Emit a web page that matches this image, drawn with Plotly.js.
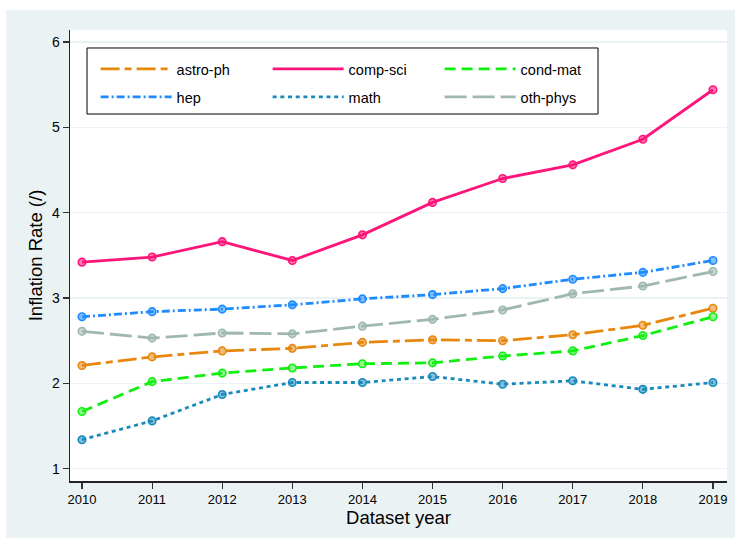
<!DOCTYPE html>
<html>
<head>
<meta charset="utf-8">
<script src="https://cdn.plot.ly/plotly-3.0.1.min.js"></script>
<style>
  html, body { margin: 0; padding: 0; background: #ffffff; width: 735px; height: 542px; overflow: hidden; }
  #chart { position: absolute; left: 6px; top: 10px; width: 729px; height: 528px; }
</style>
</head>
<body>
<div id="chart"></div>
<script>
// ---- data ----
const years = [2010, 2011, 2012, 2013, 2014, 2015, 2016, 2017, 2018, 2019];
const astroPh = [2.21, 2.31, 2.38, 2.41, 2.48, 2.51, 2.50, 2.57, 2.68, 2.88];
const compSci = [3.42, 3.48, 3.66, 3.44, 3.74, 4.12, 4.40, 4.56, 4.86, 5.44];
const condMat = [1.67, 2.02, 2.12, 2.18, 2.23, 2.24, 2.32, 2.38, 2.56, 2.78];
const hep     = [2.78, 2.84, 2.87, 2.92, 2.99, 3.04, 3.11, 3.22, 3.30, 3.44];
const math    = [1.34, 1.56, 1.87, 2.01, 2.01, 2.08, 1.99, 2.03, 1.93, 2.01];
const othPhys = [2.61, 2.53, 2.59, 2.58, 2.67, 2.75, 2.86, 3.05, 3.14, 3.31];
const seriesNames = ["astro-ph", "comp-sci", "cond-mat", "hep", "math", "oth-phys"];
const yTicks = [1, 2, 3, 4, 5, 6];

const styles = [
  { color: "#E8870E", fill: "rgba(232,135,14,0.55)", dash: "19px,5px,7px,5px" },
  { color: "#FF1479", fill: "rgba(255,20,121,0.55)", dash: "solid" },
  { color: "#10F010", fill: "rgba(16,240,16,0.45)", dash: "11px,6px" },
  { color: "#1E8CFF", fill: "rgba(30,140,255,0.55)", dash: "8px,3px,2px,3px" },
  { color: "#1A8ABD", fill: "rgba(26,138,189,0.55)", dash: "4px,3.7px" },
  { color: "#9FB8AF", fill: "rgba(159,184,175,0.55)", dash: "22px,6px" }
];
const values = [astroPh, compSci, condMat, hep, math, othPhys];

const traces = [];
values.forEach((v, i) => {
  const legendId = i < 3 ? "legend" : "legend2";
  traces.push({
    x: years, y: v, name: seriesNames[i], type: "scatter", mode: "lines",
    legend: legendId, legendgroup: seriesNames[i],
    line: { color: styles[i].color, width: 2.8, dash: styles[i].dash }
  });
  traces.push({
    x: years, y: v, name: seriesNames[i], type: "scatter", mode: "markers",
    legend: legendId, legendgroup: seriesNames[i], showlegend: false,
    marker: { symbol: "circle", size: 7.5, color: styles[i].fill, line: { color: styles[i].color, width: 1.6 } }
  });
});

const legendFont = { family: "Liberation Sans, Arial, sans-serif", size: 14.5, color: "#000000" };
const legendBase = {
  orientation: "h",
  xanchor: "left",
  yanchor: "middle",
  bgcolor: "rgba(0,0,0,0)",
  borderwidth: 0,
  itemwidth: 71,
  entrywidth: 86,
  entrywidthmode: "pixels",
  font: legendFont,
  itemclick: false,
  itemdoubleclick: false
};

const layout = {
  width: 729,
  height: 528,
  margin: { l: 64, r: 8, t: 20, b: 57, pad: 0 },
  paper_bgcolor: "#EAF2F3",
  plot_bgcolor: "#FFFFFF",
  font: { family: "Liberation Sans, Arial, sans-serif", color: "#000000", size: 14 },
  showlegend: true,
  legend: Object.assign({}, legendBase, { x: 0.039, y: 0.9135 }),
  legend2: Object.assign({}, legendBase, { x: 0.039, y: 0.8514 }),
  shapes: [{
    type: "rect", xref: "paper", yref: "paper",
    x0: 0.0259, x1: 0.8037, y0: 0.8137, y1: 0.9601,
    line: { color: "#000000", width: 1 }, fillcolor: "#FFFFFF", layer: "above"
  }],
  xaxis: {
    range: [2009.829, 2019.2],
    tickmode: "array",
    tickvals: years,
    ticktext: years.map(String),
    ticks: "outside",
    ticklen: 6,
    tickwidth: 1.2,
    tickcolor: "#333333",
    showgrid: false,
    zeroline: false,
    showline: true,
    linecolor: "#222222",
    linewidth: 1.5,
    tickfont: { family: "Liberation Sans, Arial, sans-serif", size: 13, color: "#000000" },
    title: { text: "Dataset year", font: { family: "Liberation Sans, Arial, sans-serif", size: 18.5, color: "#000000" }, standoff: 4 }
  },
  yaxis: {
    range: [0.856, 6.14],
    tickmode: "array",
    tickvals: yTicks,
    ticktext: yTicks.map(String),
    ticks: "outside",
    ticklen: 6,
    tickwidth: 1.2,
    tickcolor: "#333333",
    showgrid: true,
    gridcolor: "#EAF2F3",
    gridwidth: 1.5,
    zeroline: false,
    showline: true,
    linecolor: "#222222",
    linewidth: 1.5,
    tickfont: { family: "Liberation Sans, Arial, sans-serif", size: 14, color: "#000000" },
    title: { text: "Inflation Rate (/)", font: { family: "Liberation Sans, Arial, sans-serif", size: 18.5, color: "#000000" }, standoff: 4 }
  }
};

Plotly.newPlot("chart", traces, layout, { displayModeBar: false, staticPlot: true });
</script>
</body>
</html>
